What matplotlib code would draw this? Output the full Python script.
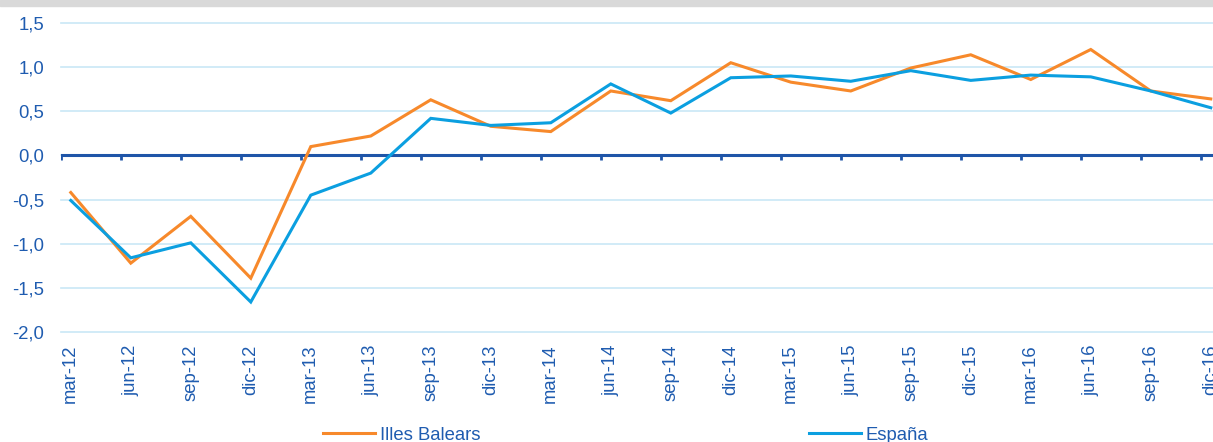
import matplotlib
matplotlib.use("Agg")
import matplotlib.pyplot as plt
from matplotlib.patches import Rectangle

categories = ["mar-12", "jun-12", "sep-12", "dic-12", "mar-13", "jun-13", "sep-13", "dic-13",
              "mar-14", "jun-14", "sep-14", "dic-14", "mar-15", "jun-15", "sep-15", "dic-15",
              "mar-16", "jun-16", "sep-16", "dic-16"]
illes_balears = [-0.42, -1.22, -0.69, -1.39, 0.10, 0.22, 0.63, 0.33, 0.27, 0.73, 0.62, 1.05,
                 0.83, 0.73, 0.99, 1.14, 0.86, 1.20, 0.73, 0.64]
espana = [-0.51, -1.16, -0.99, -1.66, -0.45, -0.20, 0.42, 0.34, 0.37, 0.81, 0.48, 0.88,
          0.90, 0.84, 0.96, 0.85, 0.91, 0.89, 0.73, 0.54]
y_ticks = [-2.0, -1.5, -1.0, -0.5, 0.0, 0.5, 1.0, 1.5]
y_labels = ["-2,0", "-1,5", "-1,0", "-0,5", "0,0", "0,5", "1,0", "1,5"]

ORANGE = "#f7892b"
BLUE = "#0b9fe0"
TXT = "#1f5cb0"
AXIS = "#1f55a8"
GRID = "#c9e8f6"
FS = 13.3

plt.rcParams['font.family'] = ['Liberation Sans', 'DejaVu Sans']

W, H = 1213, 442
fig = plt.figure(figsize=(W / 100, H / 100), dpi=100)
fig.patches.append(Rectangle((0, 1 - 6 / H), 1, 6 / H, transform=fig.transFigure,
                             color="#d9d9d9", zorder=0))

left, right, top, bottom = 61, 1213, 23, 332
ax = fig.add_axes([left / W, 1 - bottom / H, (right - left) / W, (bottom - top) / H])

n = len(categories)
x = list(range(n))
ax.plot(x, illes_balears, color=ORANGE, lw=2.2, solid_joinstyle='miter', zorder=3, label="Illes Balears")
ax.plot(x, espana, color=BLUE, lw=2.2, solid_joinstyle='miter', zorder=3, label="España")

x0 = -0.163
ax.set_xlim(x0, x0 + (right - left) / 60)
ax.set_ylim(-2.0, 1.5)

ax.set_yticks(y_ticks)
ax.set_yticklabels(y_labels)
ax.yaxis.grid(True, color=GRID, lw=1.2)
for gl in ax.get_ygridlines():
    gl.set_clip_on(False)
ax.set_axisbelow(True)
ax.tick_params(axis='y', length=0, pad=12, labelsize=FS, labelcolor=TXT)

ax.set_xticks(x)
ax.set_xticklabels(categories, rotation=90, va='top', ha='center')
ax.tick_params(axis='x', length=0, pad=9, labelsize=FS, labelcolor=TXT)

for s in ax.spines.values():
    s.set_visible(False)

# zero axis line with category boundary ticks
ax.axhline(0, color=AXIS, lw=2.2, zorder=2)
tick_len = 5 * 3.5 / (bottom - top)
ax.vlines([i + x0 for i in range(n)], -tick_len, 0, color=AXIS, lw=2, zorder=2)

h, l = ax.get_legend_handles_labels()
leg = fig.legend(h, l, loc='center left', bbox_to_anchor=(323 / W, 7 / H), ncol=2,
                 frameon=False, handlelength=2.83, handletextpad=0.27, columnspacing=17.75,
                 borderpad=0, borderaxespad=0, fontsize=FS)
for t in leg.get_texts():
    t.set_color(TXT)

fig.savefig("out.png", dpi=100)
